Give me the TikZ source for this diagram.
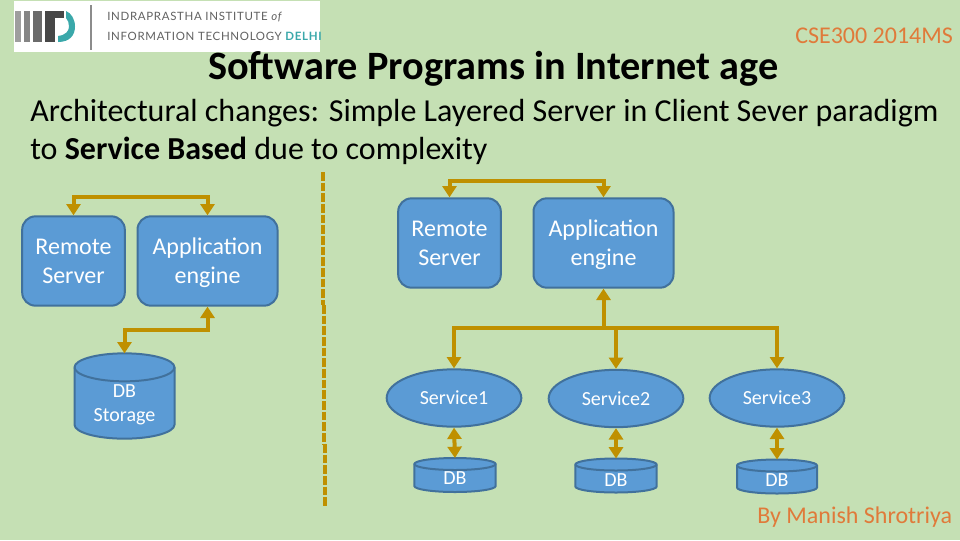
\documentclass[tikz,border=0pt]{standalone}
\usepackage{fontspec}
\setmainfont{Carlito}
\newfontfamily\logofont[LetterSpace=6]{Lato}
\usetikzlibrary{arrows.meta,shapes.geometric}
\definecolor{bgc}{RGB}{197,224,180}
\definecolor{boxc}{RGB}{91,155,213}
\definecolor{edgec}{RGB}{65,113,156}
\definecolor{linkc}{RGB}{191,144,0}
\definecolor{orangec}{RGB}{224,122,58}
\definecolor{tealc}{RGB}{58,168,170}
\tikzset{
 x=0.75pt,y=-0.75pt,
 rbox/.style={rectangle,rounded corners=10pt,draw=edgec,line width=1.5pt,fill=boxc,text=white,font=\fontsize{18}{21.7}\selectfont,align=center,inner sep=0pt},
 oval/.style={ellipse,draw=edgec,line width=1.5pt,fill=boxc,text=white,font=\fontsize{15}{18}\selectfont,inner sep=0pt},
 canbox/.style={rectangle,inner sep=0pt,outer sep=0pt},
 canline/.style={draw=edgec,line width=1.5pt,fill=boxc},
 cantext/.style={text=white,align=center,font=\fontsize{15}{18}\selectfont,inner sep=0pt},
 link/.style={draw=linkc,line width=3pt,-{Triangle[width=10.5pt,length=8.5pt]}},
 dlink/.style={draw=linkc,line width=3pt,{Triangle[width=10.5pt,length=8.5pt]}-{Triangle[width=10.5pt,length=8.5pt]}},
 divider/.style={draw=linkc,line width=3.6pt,dash pattern=on 6.5pt off 1.5pt},
 heading/.style={anchor=base west,inner sep=0pt},
 logotext/.style={anchor=base west,inner sep=0pt,text=black!62,font=\logofont\fontsize{8.6}{10}\selectfont},
}
% #1 node name, #2 half width in pt, #3 vertical radius of the rim in pt
\newcommand{\canshape}[3]{%
 \path (#1.north west) ++(0,-#3) coordinate (#1tl);
 \path (#1.south east) ++(0,#3) coordinate (#1br);
 \path[canline] (#1tl) arc[start angle=180,end angle=0,x radius=#2,y radius=#3]
   -- (#1br) arc[start angle=0,end angle=-180,x radius=#2,y radius=#3] -- cycle;
 \path[canline,fill=none] (#1tl) arc[start angle=180,end angle=360,x radius=#2,y radius=#3];
}
\begin{document}
\begin{tikzpicture}
\useasboundingbox (0,0) rectangle (960,540);
\fill[bgc] (0,0) rectangle (960,540);
% logo
\fill[white] (14,1) rectangle (320,52);
\fill[black!38] (15,11) rectangle (21,42);
\fill[black!48] (24,11) rectangle (30,42);
\fill[black!58] (33,11) rectangle (42,42);
\fill[black!72] (45,11) rectangle (55,42);
\fill[black!72] (45,11) rectangle (64,18);
\fill[tealc] (66,11) -- (66,18) .. controls (68,20) and (69,23) .. (69,26.5) .. controls (69,31) and (66,35) .. (58,36) -- (58,42) .. controls (70,42) and (75,35) .. (75,26.5) .. controls (75,19) and (71,13) .. (66,11) -- cycle;
\draw[black!45,line width=0.8pt] (91,5) -- (91,50);
\node[logotext] (logoa) at (107,20) {INDRAPRASTHA INSTITUTE \textit{of}};
\node[logotext] (logob) at (107,40) {INFORMATION TECHNOLOGY \textcolor{tealc}{\textbf{DELHI}}};
% headings
\node[heading,font=\fontsize{30.2}{34}\bfseries\selectfont] (title) at (208,79) {Software Programs in Internet age};
\node[heading,text=orangec,font=\fontsize{18}{22}\selectfont] (course) at (795,43) {CSE300 2014MS};
\node[heading,font=\fontsize{24}{30}\selectfont] (sub1) at (30,121) {Architectural changes: Simple Layered Server in Client Sever paradigm};
\node[heading,font=\fontsize{24}{30}\selectfont] (sub2) at (30,159) {to \textbf{Service Based} due to complexity};
\node[heading,text=orangec,font=\fontsize{18}{22}\selectfont] (author) at (757,523) {By Manish Shrotriya};
% divider
\coordinate (da) at (323,172); \coordinate (db) at (323,305);
\coordinate (dc) at (324,305); \coordinate (dd) at (324,444);
\coordinate (de) at (325,444); \coordinate (df) at (325,506);
\draw[divider] (da) -- (db);
\draw[divider] (dc) -- (dd);
\draw[divider] (de) -- (df);
% left
\node[rbox,minimum width=77pt,minimum height=67pt] (lrs) at (73.5,261) {Remote\\Server};
\node[rbox,minimum width=105pt,minimum height=67pt] (lae) at (207.5,261) {Application\\\smash{engine}};
\node[canbox,minimum width=75pt,minimum height=64pt] (ldb) at (124.5,396) {};
\canshape{ldb}{37.5pt}{10.5pt}
\node[cantext] (ldbt) at (124.5,405) {DB\\Storage};
\draw[dlink] (lrs.north) -- ++(0,-18) -| (lae.north);
\draw[dlink] (lae.south) -- ++(0,23) -| (ldb.north);
% right
\node[rbox,minimum width=77pt,minimum height=67pt] (rrs) at (449.5,243) {Remote\\Server};
\node[rbox,minimum width=105pt,minimum height=67pt] (rae) at (603.5,243) {Application\\\smash{engine}};
\node[oval,minimum width=101pt,minimum height=43pt] (s1) at (454,398) {Service1};
\node[oval,minimum width=101pt,minimum height=43pt] (s2) at (616,398.5) {Service2};
\node[oval,minimum width=101pt,minimum height=43pt] (s3) at (777,398) {Service3};
\node[canbox,minimum width=61pt,minimum height=25.5pt] (d1) at (455,475) {};
\node[canbox,minimum width=61pt,minimum height=25.5pt] (d2) at (616,475.5) {};
\node[canbox,minimum width=60pt,minimum height=25.5pt] (d3) at (777,476.5) {};
\canshape{d1}{30.5pt}{4.5pt}
\canshape{d2}{30.5pt}{4.5pt}
\canshape{d3}{30pt}{4.5pt}
\node[cantext] (d1t) at (455,478) {DB};
\node[cantext] (d2t) at (616,480) {DB};
\node[cantext] (d3t) at (777,480) {DB};
\draw[dlink] (rrs.north) -- ++(0,-16) -| (rae.north);
\coordinate (hub) at (603.5,328);
\draw[link] (hub) -- (rae.south);
\draw[link] (hub) -| (s1.north);
\draw[link] (hub) -| (s2.north);
\draw[link] (hub) -| (s3.north);
\draw[dlink] (s1.south) -- (d1.north);
\draw[dlink] (s2.south) -- (d2.north);
\draw[dlink] (s3.south) -- (d3.north);
\end{tikzpicture}
\end{document}
